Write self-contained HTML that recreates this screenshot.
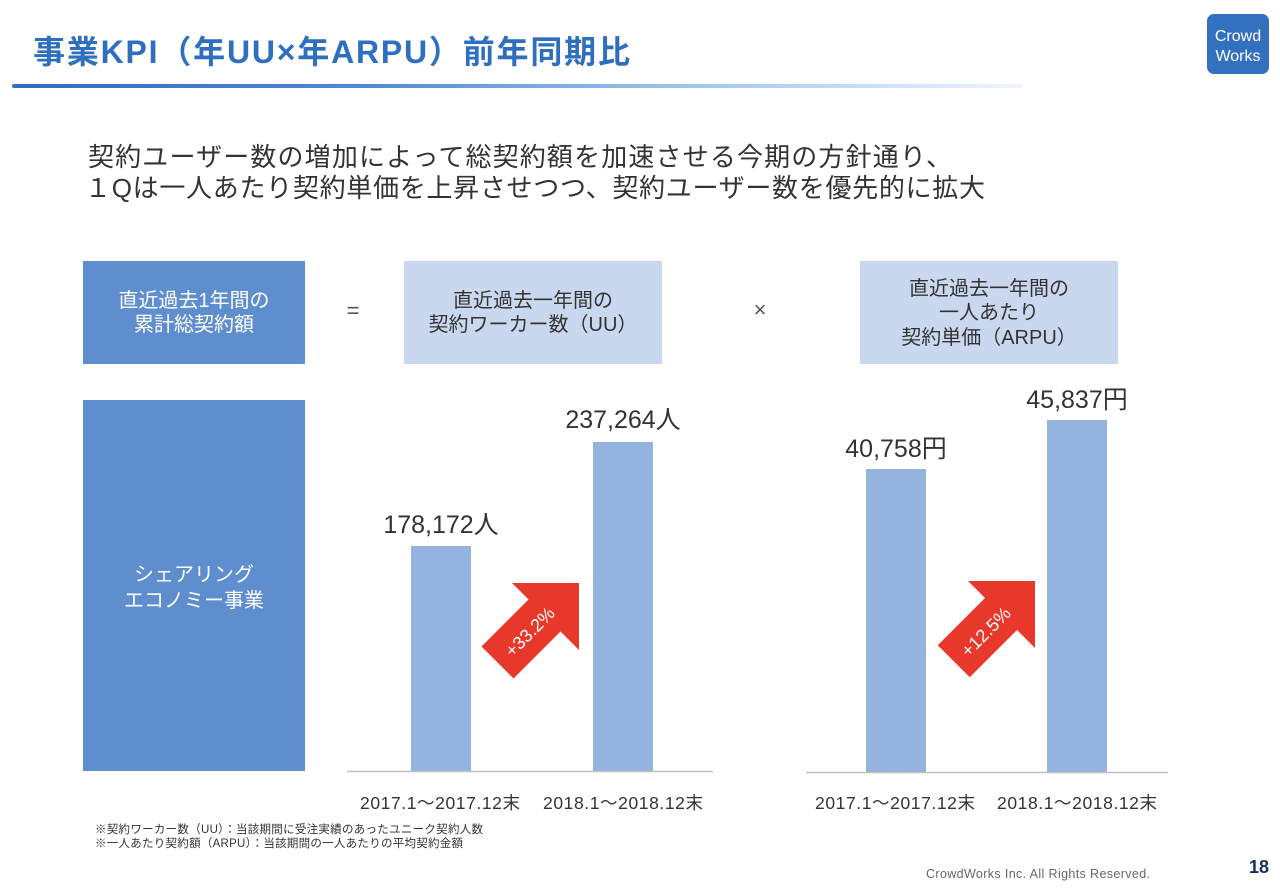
<!DOCTYPE html>
<html>
<head>
<meta charset="utf-8">
<style>
  html,body{margin:0;padding:0;background:#fff;}
  svg{display:block;}
  text{font-family:"Liberation Sans","Noto Sans CJK JP",sans-serif;}
</style>
</head>
<body>
<svg width="1280" height="888" viewBox="0 0 1280 888" xmlns="http://www.w3.org/2000/svg">
  <defs>
    <linearGradient id="ul" x1="0" y1="0" x2="1" y2="0">
      <stop offset="0" stop-color="#2f6cbc"/>
      <stop offset="0.35" stop-color="#4f8bd2"/>
      <stop offset="0.7" stop-color="#a6caf0"/>
      <stop offset="1" stop-color="#eef5fd"/>
    </linearGradient>
  </defs>

  <!-- Title -->
  <text x="33" y="63" font-size="32" font-weight="bold" fill="#2f6fbf" textLength="597" lengthAdjust="spacing">事業KPI（年UU×年ARPU）前年同期比</text>
  <rect x="12" y="84" width="1010" height="4" rx="2" fill="url(#ul)"/>

  <!-- Logo -->
  <rect x="1207" y="14" width="62" height="60" rx="7" fill="#3470c0"/>
  <text x="1238" y="41" font-size="16" fill="#fff" text-anchor="middle">Crowd</text>
  <text x="1238" y="61" font-size="16" fill="#fff" text-anchor="middle">Works</text>

  <!-- Subtitle -->
  <text x="88" y="166" font-size="26" fill="#333" textLength="864" lengthAdjust="spacing">契約ユーザー数の増加によって総契約額を加速させる今期の方針通り、</text>
  <text x="85" y="197" font-size="26" fill="#333" textLength="900" lengthAdjust="spacing">１Qは一人あたり契約単価を上昇させつつ、契約ユーザー数を優先的に拡大</text>

  <!-- Formula boxes -->
  <rect x="83" y="261" width="222" height="103" fill="#5f8ecf"/>
  <text x="194" y="307" font-size="20" fill="#fff" text-anchor="middle">直近過去1年間の</text>
  <text x="194" y="331" font-size="20" fill="#fff" text-anchor="middle">累計総契約額</text>

  <text x="353" y="318" font-size="22" fill="#555" text-anchor="middle">=</text>

  <rect x="404" y="261" width="258" height="103" fill="#c9d8ee"/>
  <text x="533" y="307" font-size="20" fill="#333" text-anchor="middle">直近過去一年間の</text>
  <text x="533" y="331" font-size="20" fill="#333" text-anchor="middle">契約ワーカー数（UU）</text>

  <text x="760" y="317" font-size="22" fill="#555" text-anchor="middle">×</text>

  <rect x="860" y="261" width="258" height="103" fill="#c9d8ee"/>
  <text x="989" y="295" font-size="20" fill="#333" text-anchor="middle">直近過去一年間の</text>
  <text x="989" y="319" font-size="20" fill="#333" text-anchor="middle">一人あたり</text>
  <text x="989" y="344" font-size="20" fill="#333" text-anchor="middle">契約単価（ARPU）</text>

  <!-- Big left box -->
  <rect x="83" y="400" width="222" height="371" fill="#5f8ecf"/>
  <text x="194" y="581" font-size="20" fill="#fff" text-anchor="middle">シェアリング</text>
  <text x="194" y="607" font-size="20" fill="#fff" text-anchor="middle">エコノミー事業</text>

  <!-- Chart 1 -->
  <rect x="411" y="546" width="60" height="225" fill="#95b3df"/>
  <rect x="593" y="442" width="60" height="329" fill="#95b3df"/>
  <line x1="347" y1="771.5" x2="713" y2="771.5" stroke="#bfbfbf" stroke-width="1.5"/>
  <text x="441" y="533" font-size="25" fill="#333" text-anchor="middle">178,172人</text>
  <text x="623" y="428" font-size="25" fill="#333" text-anchor="middle">237,264人</text>

  <polygon points="512,583 579,583 579,650 560.5,631.5 513.5,678.5 481.5,646.5 528.5,599.5" fill="#e8382b"/>
  <text x="530" y="632" font-size="18" fill="#fff" text-anchor="middle" dominant-baseline="central" transform="rotate(-45 530 632)">+33.2%</text>

  <text x="440" y="809" font-size="17.5" fill="#333" text-anchor="middle" textLength="160" lengthAdjust="spacing">2017.1～2017.12末</text>
  <text x="623" y="809" font-size="17.5" fill="#333" text-anchor="middle" textLength="160" lengthAdjust="spacing">2018.1～2018.12末</text>

  <!-- Chart 2 -->
  <rect x="866" y="469" width="60" height="303" fill="#95b3df"/>
  <rect x="1047" y="420" width="60" height="352" fill="#95b3df"/>
  <line x1="806" y1="772.5" x2="1168" y2="772.5" stroke="#bfbfbf" stroke-width="1.5"/>
  <text x="896" y="457" font-size="25" fill="#333" text-anchor="middle">40,758円</text>
  <text x="1077" y="408" font-size="25" fill="#333" text-anchor="middle">45,837円</text>

  <polygon points="968,581 1035,581 1035,648 1017,630 969.75,677.25 937.75,645.25 985,598" fill="#e8382b"/>
  <text x="986" y="632" font-size="18" fill="#fff" text-anchor="middle" dominant-baseline="central" transform="rotate(-45 986 632)">+12.5%</text>

  <text x="895" y="809" font-size="17.5" fill="#333" text-anchor="middle" textLength="160" lengthAdjust="spacing">2017.1～2017.12末</text>
  <text x="1077" y="809" font-size="17.5" fill="#333" text-anchor="middle" textLength="160" lengthAdjust="spacing">2018.1～2018.12末</text>

  <!-- Footnotes -->
  <text x="95" y="833" font-size="11.5" fill="#333" textLength="388" lengthAdjust="spacing">※契約ワーカー数（UU）：当該期間に受注実績のあったユニーク契約人数</text>
  <text x="95" y="847" font-size="11.5" fill="#333" textLength="368" lengthAdjust="spacing">※一人あたり契約額（ARPU）：当該期間の一人あたりの平均契約金額</text>

  <!-- Footer -->
  <text x="926" y="878" font-size="12.5" fill="#666" textLength="224" lengthAdjust="spacing">CrowdWorks Inc. All Rights Reserved.</text>
  <text x="1249" y="873" font-size="18" font-weight="bold" fill="#1b2d5c">18</text>
</svg>
</body>
</html>
